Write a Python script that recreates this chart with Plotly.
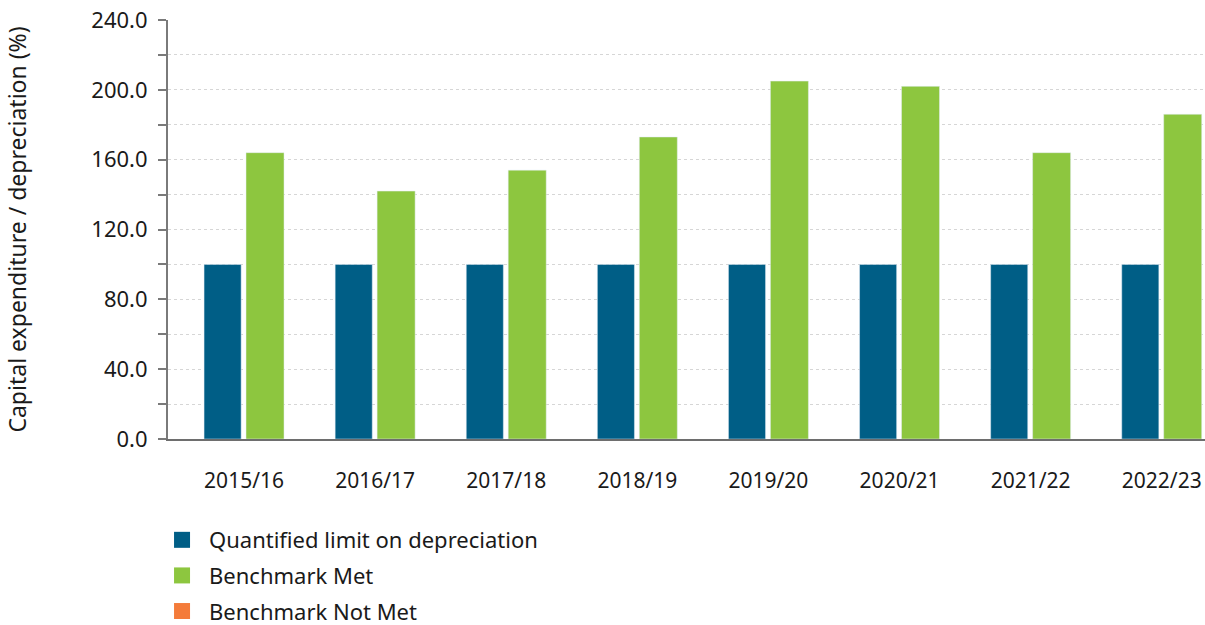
import plotly.graph_objects as go

years = ["2015/16", "2016/17", "2017/18", "2018/19", "2019/20", "2020/21", "2021/22", "2022/23"]
limit_values = [100, 100, 100, 100, 100, 100, 100, 100]
met_values = [164, 142, 154, 173, 205, 202, 164, 186]
not_met_values = [None] * len(years)

y_ticks = [0, 40, 80, 120, 160, 200, 240]

BLUE = "#005E86"
GREEN = "#8DC63F"
ORANGE = "#F47B3A"
FONT = "Noto Sans"

fig = go.Figure()
fig.add_trace(go.Bar(x=years, y=limit_values, marker_color=BLUE, offset=-0.305, width=0.283,
                     showlegend=False, name="Quantified limit on depreciation"))
fig.add_trace(go.Bar(x=years, y=met_values, marker_color=GREEN, offset=0.015, width=0.29,
                     showlegend=False, name="Benchmark Met"))
fig.add_trace(go.Bar(x=years, y=not_met_values, marker_color=ORANGE, offset=0.015, width=0.29,
                     showlegend=False, name="Benchmark Not Met"))

for name, col in [("Quantified limit on depreciation", BLUE), ("Benchmark Met", GREEN),
                  ("Benchmark Not Met", ORANGE)]:
    fig.add_trace(go.Scatter(x=[None], y=[None], mode="markers", name=name, legendgroup=name,
                             marker=dict(symbol="square", size=16, color=col)))

fig.update_layout(
    width=1205, height=625,
    margin=dict(l=168, r=0, t=20, b=186, autoexpand=False),
    plot_bgcolor="white", paper_bgcolor="white",
    barmode="overlay",
    font=dict(family=FONT, size=22, color="#1a1a1a"),
    showlegend=True,
    legend=dict(orientation="v", x=-0.0125, xanchor="left", y=-0.191, yanchor="top",
                itemwidth=44, itemsizing="trace", tracegroupgap=4,
                font=dict(family=FONT, size=22, color="#1a1a1a")),
    xaxis=dict(type="category", range=[-0.58, 7.33], showgrid=False,
               showline=True, linecolor="#6e6e6e", linewidth=1.5,
               ticks="", ticklabelstandoff=22, tickfont=dict(size=21)),
    yaxis=dict(range=[0, 240], tickvals=y_ticks, tickformat=".1f",
               showline=True, linecolor="#7a7a7a", linewidth=2,
               ticks="outside", ticklen=8, tickcolor="#7a7a7a", tickwidth=1.5,
               ticklabelstandoff=6,
               showgrid=True, gridcolor="#d6d6d6", griddash="dot", gridwidth=1,
               zeroline=False,
               minor=dict(dtick=20, ticks="outside", ticklen=8, tickcolor="#7a7a7a",
                          showgrid=True, gridcolor="#d6d6d6", griddash="dot"),
               title=dict(text="Capital expenditure / depreciation (%)", standoff=58,
                          font=dict(size=23)),
               tickfont=dict(size=22)),
)

fig.write_html("out.html")
